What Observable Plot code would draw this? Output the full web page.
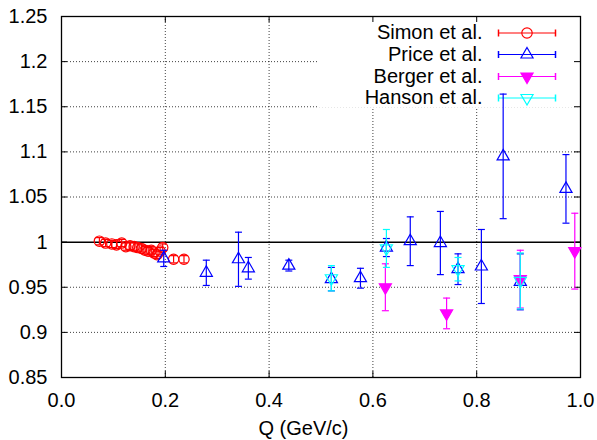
<!DOCTYPE html>
<html>
<head>
<meta charset="utf-8">
<script src="https://cdn.jsdelivr.net/npm/d3@7"></script>
<script src="https://cdn.jsdelivr.net/npm/@observablehq/plot@0.6"></script>
<style>
  html, body { margin: 0; padding: 0; background: #fff; }
  #chart svg { display: block; }
</style>
</head>
<body>
<div id="chart"></div>
<script>
// ---- Data ----
const simonQ = [0.073,0.085,0.097,0.106,0.116,0.124,0.132,0.140,0.147,0.154,0.161,0.167,0.173,0.178,0.184,0.190,0.195,0.216,0.236];
const simonV = [1.001,0.999,0.998,0.997,0.999,0.995,0.996,0.995,0.994,0.993,0.991,0.990,0.991,0.988,0.986,0.990,0.994,0.981,0.981];
const simonE = [0.004,0.004,0.004,0.004,0.004,0.004,0.004,0.004,0.004,0.004,0.004,0.004,0.004,0.004,0.004,0.004,0.004,0.004,0.004];

const priceQ = [0.197,0.279,0.341,0.360,0.438,0.520,0.576,0.626,0.672,0.730,0.764,0.809,0.851,0.884,0.972];
const priceV = [0.982,0.966,0.981,0.971,0.974,0.959,0.960,0.994,1.001,0.999,0.970,0.973,1.095,0.956,1.059];
const priceE = [0.009,0.014,0.030,0.012,0.006,0.013,0.011,0.010,0.027,0.035,0.017,0.041,0.069,0.031,0.038];

const bergerQ = [0.624,0.742,0.884,0.989];
const bergerV = [0.950,0.921,0.959,0.990];
const bergerE = [0.026,0.017,0.032,0.042];

const hansonQ = [0.520,0.626,0.764,0.884];
const hansonV = [0.960,0.993,0.970,0.957];
const hansonE = [0.014,0.021,0.013,0.031];

const seriesNames = ["Simon et al.", "Price et al.", "Berger et al.", "Hanson et al."];

const xTicks = [0, 0.2, 0.4, 0.6, 0.8, 1.0];
const xTickLabels = ["0.0", "0.2", "0.4", "0.6", "0.8", "1.0"];
const yTicks = [0.85, 0.9, 0.95, 1.0, 1.05, 1.1, 1.15, 1.2, 1.25];
const yTickLabels = ["0.85", "0.9", "0.95", "1", "1.05", "1.1", "1.15", "1.2", "1.25"];
const xGridVals = [0.2, 0.4, 0.6, 0.8];
const yGridVals = [0.9, 0.95, 1.05, 1.1, 1.15, 1.2];
const xLabel = "Q (GeV/c)";

// ---- Styles ----
const styles = [
  {color: "#ff0000", symbol: "circle", fill: "none", rotate: 0, r: 5.2},
  {color: "#0000ff", symbol: "triangle", fill: "none", rotate: 0, r: 4.5},
  {color: "#ff00ff", symbol: "triangle", fill: "#ff00ff", rotate: 180, r: 4.5},
  {color: "#00ffff", symbol: "triangle", fill: "none", rotate: 180, r: 4.5}
];

const toRows = (Q, V, E, s) => Q.map((q, i) => ({q, v: V[i], lo: V[i] - E[i], hi: V[i] + E[i], s}));
const series = [
  toRows(simonQ, simonV, simonE, 0),
  toRows(priceQ, priceV, priceE, 1),
  toRows(bergerQ, bergerV, bergerE, 2),
  toRows(hansonQ, hansonV, hansonE, 3)
];

// ---- Layout ----
const W = 597, H = 440;
const mL = 61, mR = 17, mT = 16, mB = 63;
const xDom = [0, 1], yDom = [0.85, 1.25];
const fw = W - mL - mR, fh = H - mT - mB;
const toX = px => xDom[0] + (px - mL) / fw * (xDom[1] - xDom[0]);
const toY = py => yDom[1] - (py - mT) / fh * (yDom[1] - yDom[0]);

// Custom error-bar cap symbols
const hCap = {draw(ctx, size) { const r = Math.sqrt(size / Math.PI); ctx.moveTo(-r, 0); ctx.lineTo(r, 0); }};
const vCap = {draw(ctx, size) { const r = Math.sqrt(size / Math.PI); ctx.moveTo(0, -r); ctx.lineTo(0, r); }};

// Legend layout (pixel positions inside the SVG)
const legRowsPx = [32.5, 54, 76, 97.5];
const legTextRight = 482, legLine1 = 498, legLine2 = 555, legSym = 526.5;
const legend = seriesNames.map((name, i) => ({
  name, s: i,
  tx: toX(legTextRight), x1: toX(legLine1), x2: toX(legLine2), xs: toX(legSym), y: toY(legRowsPx[i])
}));
const legendBox = [{x1: toX(318), x2: xDom[1], y1: toY(107.5), y2: yDom[1]}];

const marks = [];

// grid
marks.push(Plot.gridX(xGridVals, {stroke: "#000", strokeOpacity: 0.75, strokeDasharray: "1,2", strokeWidth: 1}));
marks.push(Plot.gridY(yGridVals, {stroke: "#000", strokeOpacity: 0.75, strokeDasharray: "1,2", strokeWidth: 1}));
// legend box hides grid
marks.push(Plot.rect(legendBox, {x1: "x1", x2: "x2", y1: "y1", y2: "y2", fill: "white"}));
// y = 1 line
marks.push(Plot.ruleY([1], {stroke: "#000", strokeWidth: 1.5}));
// inward ticks on all four sides
marks.push(Plot.tickY(yTicks, {y: d => d, insetRight: fw - 6, stroke: "#000"}));
marks.push(Plot.tickY(yTicks, {y: d => d, insetLeft: fw - 6, stroke: "#000"}));
marks.push(Plot.tickX(xTicks, {x: d => d, insetTop: fh - 6, stroke: "#000"}));
marks.push(Plot.tickX(xTicks, {x: d => d, insetBottom: fh - 6, stroke: "#000"}));
marks.push(Plot.frame({stroke: "#000", strokeWidth: 1.3}));
// axes
marks.push(Plot.axisY(yTicks, {tickSize: 0, tickPadding: 14, tickFormat: d => yTickLabels[yTicks.indexOf(d)], label: null, fill: "#000"}));
marks.push(Plot.axisX(xTicks, {tickSize: 0, tickPadding: 15, tickFormat: d => xTickLabels[xTicks.indexOf(d)], label: null, fill: "#000"}));
marks.push(Plot.text([xLabel], {text: d => d, frameAnchor: "bottom", dy: 51, dx: -17.5, lineAnchor: "middle", fill: "#000"}));

// legend
marks.push(Plot.text(legend, {x: "tx", y: "y", text: "name", textAnchor: "end", lineAnchor: "middle", fill: "#000"}));
styles.forEach((st, i) => {
  const row = legend.filter(d => d.s === i);
  marks.push(Plot.ruleY(row, {y: "y", x1: "x1", x2: "x2", stroke: st.color, strokeWidth: 1.2}));
  marks.push(Plot.dot(row, {x: "x1", y: "y", symbol: vCap, r: 3.5, stroke: st.color, fill: "none"}));
  marks.push(Plot.dot(row, {x: "x2", y: "y", symbol: vCap, r: 3.5, stroke: st.color, fill: "none"}));
  marks.push(Plot.dot(row, {x: "xs", y: "y", symbol: st.symbol, r: st.r, rotate: st.rotate, stroke: st.color, fill: st.fill, strokeWidth: 1.2}));
});

// data
styles.forEach((st, i) => {
  const rows = series[i];
  marks.push(Plot.ruleX(rows, {x: "q", y1: "lo", y2: "hi", stroke: st.color, strokeWidth: 1.2}));
  marks.push(Plot.dot(rows, {x: "q", y: "lo", symbol: hCap, r: 3.5, stroke: st.color, fill: "none", strokeWidth: 1.2}));
  marks.push(Plot.dot(rows, {x: "q", y: "hi", symbol: hCap, r: 3.5, stroke: st.color, fill: "none", strokeWidth: 1.2}));
  marks.push(Plot.dot(rows, {x: "q", y: "v", symbol: st.symbol, r: st.r, rotate: st.rotate, stroke: st.color, fill: st.fill, strokeWidth: 1.2}));
});

const chart = Plot.plot({
  width: W, height: H,
  marginLeft: mL, marginRight: mR, marginTop: mT, marginBottom: mB,
  x: {domain: xDom, axis: null},
  y: {domain: yDom, axis: null},
  style: {fontFamily: "'Liberation Sans', Arial, sans-serif", fontSize: "20px", background: "#fff", color: "#000"},
  marks
});
document.getElementById("chart").appendChild(chart);
</script>
</body>
</html>
